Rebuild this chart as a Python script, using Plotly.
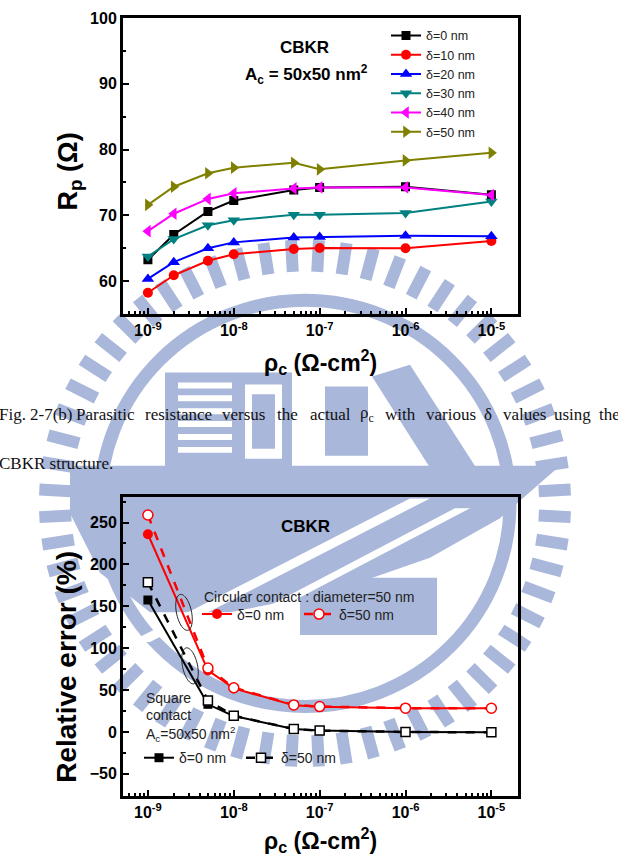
import numpy as np
import plotly.graph_objects as go

W, H = 618, 861
def px(x): return x / W
def py(y): return 1 - y / H

# ---------------- data ----------------
rho = [1e-9, 2e-9, 5e-9, 1e-8, 5e-8, 1e-7, 1e-6, 1e-5]
rp_d0  = [63.25, 67.1, 70.6, 72.25, 73.85, 74.25, 74.35, 73.15]
rp_d10 = [58.25, 60.9, 63.1, 64.1, 64.9, 65.05, 65.0, 66.1]
rp_d20 = [60.35, 62.9, 65.0, 65.9, 66.65, 66.7, 66.9, 66.85]
rp_d30 = [63.75, 66.4, 68.5, 69.25, 70.1, 70.1, 70.35, 72.1]
rp_d40 = [67.6, 70.25, 72.5, 73.35, 74.1, 74.25, 74.25, 73.1]
rp_d50 = [71.6, 74.35, 76.4, 77.25, 78.0, 77.0, 78.35, 79.5]

rho2 = [1e-9, 5e-9, 1e-8, 5e-8, 1e-7, 1e-6, 1e-5]
err_circ_d0  = [236, 73.5, 52, 32, 30, 28.4, 28.3]
err_circ_d50 = [259, 76.4, 52.8, 32.3, 30.3, 28.4, 28.3]
err_sq_d0  = [157.5, 33, 19, 3.5, 1.6, 0, -0.5]
err_sq_d50 = [178.7, 37.4, 19.3, 3.5, 1.6, 0, -0.5]

xticks = [1e-9, 1e-8, 1e-7, 1e-6, 1e-5]
xticktext = ["10<sup>-9</sup>", "10<sup>-8</sup>", "10<sup>-7</sup>", "10<sup>-6</sup>", "10<sup>-5</sup>"]
y1ticks = [60, 70, 80, 90, 100]
y2ticks = [-50, 0, 50, 100, 150, 200, 250]

FONT = "Liberation Sans, Arial, sans-serif"
SERIF = "Liberation Serif, Times New Roman, serif"
WM = "#A9B7DA"

fig = go.Figure()

top_series = [
    ("δ=0 nm", rp_d0, "#000000", "square", 9),
    ("δ=10 nm", rp_d10, "#FF0000", "circle", 10),
    ("δ=20 nm", rp_d20, "#0000FF", "triangle-up", 11),
    ("δ=30 nm", rp_d30, "#008080", "triangle-down", 11),
    ("δ=40 nm", rp_d40, "#FF00FF", "triangle-left", 11),
    ("δ=50 nm", rp_d50, "#808000", "triangle-right", 11),
]
for name, vals, col, sym, sz in top_series:
    fig.add_trace(go.Scatter(x=rho, y=vals, name=name, mode="lines+markers",
                             line=dict(color=col, width=2),
                             marker=dict(symbol=sym, size=sz, color=col),
                             xaxis="x", yaxis="y", legend="legend"))

fig.add_trace(go.Scatter(x=rho2, y=err_circ_d0, name="δ=0 nm", mode="lines+markers",
                         line=dict(color="#FF0000", width=2),
                         marker=dict(symbol="circle", size=10, color="#FF0000"),
                         xaxis="x2", yaxis="y2", legend="legend2"))
fig.add_trace(go.Scatter(x=rho2, y=err_sq_d0, name="δ=0 nm", mode="lines+markers",
                         line=dict(color="#000000", width=2),
                         marker=dict(symbol="square", size=9, color="#000000"),
                         xaxis="x2", yaxis="y2", legend="legend3"))
fig.add_trace(go.Scatter(x=rho2, y=err_circ_d50, name="δ=50 nm", mode="lines+markers",
                         line=dict(color="#FF0000", width=2.5, dash="dash"),
                         marker=dict(symbol="circle", size=10, color="white",
                                     line=dict(width=1.5, color="#FF0000")),
                         xaxis="x2", yaxis="y2", legend="legend2"))
fig.add_trace(go.Scatter(x=rho2, y=err_sq_d50, name="δ=50 nm", mode="lines+markers",
                         line=dict(color="#000000", width=2.5, dash="dash"),
                         marker=dict(symbol="square", size=9, color="white",
                                     line=dict(width=1.5, color="#000000")),
                         xaxis="x2", yaxis="y2", legend="legend3"))

minor_x = [m * 10.0 ** e for e in range(-10, -4) for m in range(2, 10)]

def xaxis_style(domain_y_anchor):
    return dict(type="log", range=[-9.29, -4.69], domain=[px(123), px(518)],
                anchor=domain_y_anchor, showline=True, linewidth=3, linecolor="black",
                mirror=True, ticks="inside", ticklen=6, tickwidth=2, tickcolor="black",
                tickvals=xticks, ticktext=xticktext, showgrid=False, zeroline=False,
                tickfont=dict(family=FONT, size=16, color="black", weight="bold"),
                minor=dict(tickvals=minor_x, ticks="inside", ticklen=3, tickwidth=1.5,
                           tickcolor="black", showgrid=False))

def yaxis_style(rng, dom, tv, minor_tv, anchor):
    return dict(range=rng, domain=dom, anchor=anchor, showline=True, linewidth=3,
                linecolor="black", mirror=True, ticks="inside", ticklen=6, tickwidth=2,
                tickcolor="black", tickvals=tv, showgrid=False, zeroline=False,
                tickfont=dict(family=FONT, size=16, color="black", weight="bold"),
                minor=dict(tickvals=minor_tv, ticks="inside", ticklen=3, tickwidth=1.5,
                           tickcolor="black", showgrid=False))

# ---------------- watermark shapes ----------------
shapes = []
def P(x, y):
    return f"{px(x):.5f},{py(y):.5f}"

cx, cy = 305, 500
bar_path = ""
for k in range(60):
    th = np.deg2rad(k * 6 + 3)
    u = np.array([np.cos(th), np.sin(th)])
    v = np.array([-np.sin(th), np.cos(th)])
    c = np.array([cx, cy])
    r1, r2, w = 234, 266, 6
    pts = [c + r1 * u - w * v, c + r2 * u - w * v, c + r2 * u + w * v, c + r1 * u + w * v]
    bar_path += "M" + "L".join(P(*p) for p in pts) + "Z "
shapes.append(dict(type="path", path=bar_path, xref="paper", yref="paper",
                   fillcolor=WM, line=dict(width=0), layer="below"))
shapes.append(dict(type="circle", xref="paper", yref="paper",
                   x0=px(cx - 205), x1=px(cx + 205), y0=py(cy + 205), y1=py(cy - 205),
                   line=dict(color=WM, width=13), layer="below"))

def poly(points, color=WM):
    path = "M" + "L".join(P(*p) for p in points) + "Z"
    shapes.append(dict(type="path", path=path, xref="paper", yref="paper",
                       fillcolor=color, line=dict(width=0), layer="below"))

# hull
poly([(70, 462), (560, 462), (500, 515), (430, 555), (330, 590), (230, 610), (150, 610), (100, 570), (70, 510)])
# building
poly([(165, 368), (292, 368), (292, 465), (165, 465)])
for k in range(6):
    y0 = 378 + k * 13
    poly([(178, y0), (232, y0), (232, y0 + 6), (178, y0 + 6)], color="white")
poly([(245, 380), (282, 380), (282, 455), (245, 455)], color="white")
poly([(252, 390), (275, 390), (275, 445), (252, 445)])
poly([(325, 382), (368, 382), (368, 452), (325, 452)])
poly([(372, 372), (410, 360), (480, 470), (440, 480)])
poly([(300, 575), (437, 575), (437, 633), (300, 633)])
# swoosh white lines
poly([(130, 640), (150, 640), (430, 495), (410, 495)], color="white")
poly([(200, 640), (215, 640), (470, 505), (455, 505)], color="white")

# ellipses (annotation marks)
for ex, ey in [(184, 610), (190, 664)]:
    t = np.linspace(0, 2 * np.pi, 60)
    a, b, ang = 7.5, 18.5, np.deg2rad(12)
    xs = ex + a * np.cos(t) * np.cos(ang) + b * np.sin(t) * np.sin(ang)
    ys = ey - a * np.cos(t) * np.sin(ang) + b * np.sin(t) * np.cos(ang)
    path = "M" + "L".join(P(x, y) for x, y in zip(xs, ys)) + "Z"
    shapes.append(dict(type="path", path=path, xref="paper", yref="paper",
                       line=dict(color="#222222", width=1)))

# ---------------- annotations ----------------
ann = []
def text(x, y, s, size=14, bold=False, anchor="center", color="black", family=FONT, angle=0):
    ann.append(dict(x=px(x), y=py(y), xref="paper", yref="paper", text=s, showarrow=False,
                    xanchor=anchor, yanchor="middle", textangle=angle, borderpad=0,
                    font=dict(family=family, size=size, color=color,
                              weight="bold" if bold else "normal")))

text(304, 40, "CBKR", 17, True)
text(306, 67, "A<sub>c</sub> = 50x50 nm<sup>2</sup>", 17, True)
text(70, 165, "R<sub>p</sub> (Ω)", 27, True, angle=-90)
text(320, 357, "ρ<sub>c</sub> (Ω-cm<sup>2</sup>)", 23, True)

words = [("Fig.", 0), ("2-7(b)", 31), ("Parasitic", 77), ("resistance", 146), ("versus", 223),
         ("the", 278), ("actual", 311), ("ρ<sub>c</sub>", 361), ("with", 386), ("various", 427),
         ("δ", 485), ("values", 504), ("using", 555), ("the", 600)]
for w_, x_ in words:
    text(x_ - 2, 410, w_, 17, False, anchor="left", color="#111111", family=SERIF)
text(-2, 460, "CBKR structure.", 17, False, anchor="left", color="#111111", family=SERIF)

text(305, 523, "CBKR", 17, True)
text(203, 595, "Circular contact : diameter=50 nm", 14, False, anchor="left", color="#222222")
text(145, 696, "Square", 14, False, anchor="left", color="#222222")
text(145, 714, "contact", 14, False, anchor="left", color="#222222")
text(145, 733, "A<sub>c</sub>=50x50 nm<sup>2</sup>", 14, False, anchor="left", color="#222222")
text(67, 665, "Relative error (%)", 28, True, angle=-90)
text(320, 840, "ρ<sub>c</sub> (Ω-cm<sup>2</sup>)", 23, True)

leg_font = dict(family=FONT, size=14, color="#222222")
fig.update_layout(
    width=W, height=H, margin=dict(l=0, r=0, t=0, b=0),
    paper_bgcolor="white", plot_bgcolor="rgba(0,0,0,0)",
    xaxis=xaxis_style("y"),
    yaxis=yaxis_style([55, 100], [py(309), py(10)], y1ticks, [65, 75, 85, 95], "x"),
    xaxis2=xaxis_style("y2"),
    yaxis2=yaxis_style([-76, 280], [py(795), py(494)], y2ticks,
                       [-75, -25, 25, 75, 125, 175, 225, 275], "x2"),
    legend=dict(x=px(386), y=py(13), xanchor="left", yanchor="top",
                font=dict(family=FONT, size=12.5, color="#222222"),
                bgcolor="rgba(0,0,0,0)", tracegroupgap=0, itemwidth=30),
    legend2=dict(x=px(197), y=py(596), xanchor="left", yanchor="top", font=leg_font,
                 orientation="h", bgcolor="rgba(0,0,0,0)", entrywidth=57, itemwidth=30),
    legend3=dict(x=px(139), y=py(741), xanchor="left", yanchor="top", font=leg_font,
                 orientation="h", bgcolor="rgba(0,0,0,0)", entrywidth=57, itemwidth=30),
    shapes=shapes, annotations=ann, showlegend=True,
)

fig.write_html("out.html")
